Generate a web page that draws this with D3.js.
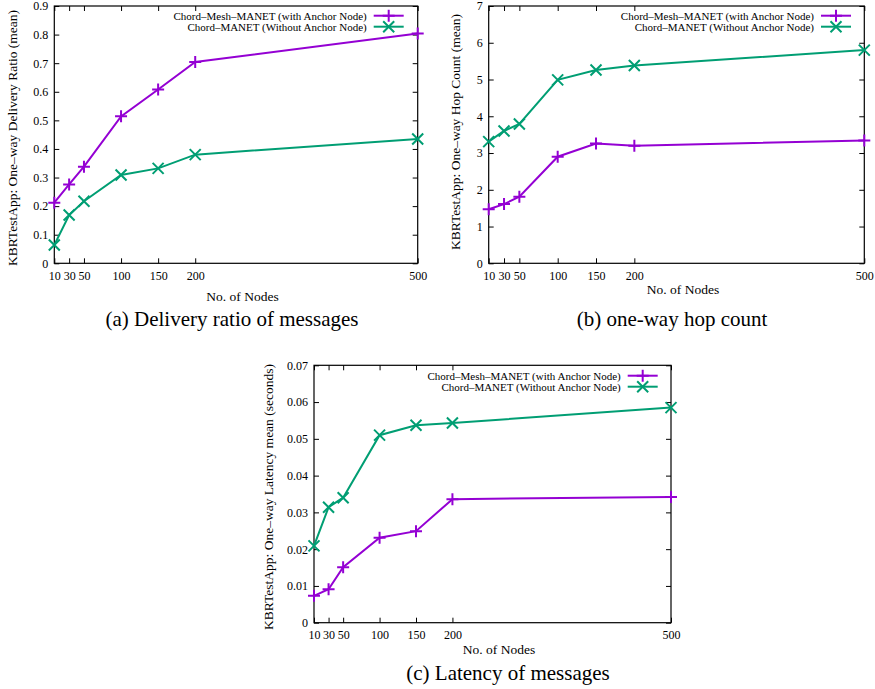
<!DOCTYPE html>
<html><head><meta charset="utf-8">
<script src="https://cdn.jsdelivr.net/npm/d3@7"></script>
<style>body{margin:0;background:#fff}svg{display:block}text{font-family:"Liberation Serif","Times New Roman",serif;fill:#000}</style>
</head><body>
<svg id="c" width="875" height="689"></svg>
<script>
const nodes = [10, 30, 50, 100, 150, 200, 500];
const seriesNames = ["Chord\u2013Mesh\u2013MANET (with Anchor Node)", "Chord\u2013MANET (Without Anchor Node)"];
const deliveryWithAnchor = [0.212, 0.276, 0.338, 0.514, 0.608, 0.704, 0.804];
const deliveryWithout = [0.064, 0.169, 0.217, 0.309, 0.332, 0.380, 0.435];
const hopWithAnchor = [1.47, 1.61, 1.81, 2.90, 3.26, 3.20, 3.34];
const hopWithout = [3.31, 3.60, 3.79, 4.99, 5.26, 5.38, 5.80];
const latencyWithAnchor = [0.0073, 0.0091, 0.0151, 0.0231, 0.0249, 0.0336, 0.0342];
const latencyWithout = [0.0209, 0.0314, 0.0340, 0.0510, 0.0537, 0.0543, 0.0585];
const deliveryTicks = [0, 0.1, 0.2, 0.3, 0.4, 0.5, 0.6, 0.7, 0.8, 0.9];
const hopTicks = [0, 1, 2, 3, 4, 5, 6, 7];
const latencyTicks = [0, 0.01, 0.02, 0.03, 0.04, 0.05, 0.06, 0.07];
const colors = ["#9400d3", "#009e73"];

const svg = d3.select("#c");

function marker(g, type, x, y, s, color) {
  if (type === 0) {
    g.append("path").attr("d", `M${x - s},${y}H${x + s}M${x},${y - s}V${y + s}`)
      .attr("stroke", color).attr("stroke-width", 2).attr("fill", "none");
  } else {
    g.append("path").attr("d", `M${x - s},${y - s}L${x + s},${y + s}M${x - s},${y + s}L${x + s},${y - s}`)
      .attr("stroke", color).attr("stroke-width", 2).attr("fill", "none");
  }
}

function panel(cfg) {
  const g = svg.append("g");
  const x = d3.scaleLinear().domain([10, 500]).range([cfg.l, cfg.r]);
  const y = d3.scaleLinear().domain([0, cfg.yTicks[cfg.yTicks.length - 1]]).range([cfg.b, cfg.t]);
  const tl = 5;
  // left axis
  g.append("g").attr("transform", `translate(${cfg.l},0)`)
    .call(d3.axisLeft(y).tickValues(cfg.yTicks).tickSize(-tl).tickPadding(6).tickFormat(cfg.yFmt))
    .call(a => { a.select(".domain").remove(); a.selectAll("text").attr("font-size", 12).attr("font-family", "Liberation Serif"); a.selectAll("line").attr("stroke", "#000"); });
  // right axis mirror ticks
  g.append("g").attr("transform", `translate(${cfg.r},0)`)
    .call(d3.axisRight(y).tickValues(cfg.yTicks).tickSize(-tl).tickFormat(""))
    .call(a => { a.select(".domain").remove(); a.selectAll("line").attr("stroke", "#000"); });
  // bottom
  g.append("g").attr("transform", `translate(0,${cfg.b})`)
    .call(d3.axisBottom(x).tickValues(nodes).tickSize(-tl).tickPadding(8).tickFormat(d3.format("d")))
    .call(a => { a.select(".domain").remove(); a.selectAll("text").attr("font-size", 12).attr("font-family", "Liberation Serif"); a.selectAll("line").attr("stroke", "#000"); });
  // top mirror
  g.append("g").attr("transform", `translate(0,${cfg.t})`)
    .call(d3.axisTop(x).tickValues(nodes).tickSize(-tl).tickFormat(""))
    .call(a => { a.select(".domain").remove(); a.selectAll("line").attr("stroke", "#000"); });
  g.append("rect").attr("x", cfg.l).attr("y", cfg.t).attr("width", cfg.r - cfg.l).attr("height", cfg.b - cfg.t)
    .attr("fill", "none").attr("stroke", "#000").attr("stroke-width", 1.2);

  const line = d3.line().x((d, i) => x(nodes[i])).y(d => y(d));
  cfg.series.forEach((s, k) => {
    g.append("path").datum(s).attr("d", line).attr("fill", "none").attr("stroke", colors[k]).attr("stroke-width", 2);
    s.forEach((v, i) => marker(g, k, x(nodes[i]), y(v), k === 0 ? 6 : 5.5, colors[k]));
  });

  // legend
  seriesNames.forEach((n, k) => {
    const ly = cfg.legY + k * 11;
    g.append("text").attr("x", cfg.legX).attr("y", ly + 4).attr("text-anchor", "end").attr("font-size", 11).text(n);
    g.append("line").attr("x1", cfg.legX + 7).attr("x2", cfg.legX + 37).attr("y1", ly).attr("y2", ly)
      .attr("stroke", colors[k]).attr("stroke-width", 2);
    marker(g, k, cfg.legX + 22, ly, k === 0 ? 6 : 5.5, colors[k]);
  });

  g.append("text").attr("x", cfg.xlx).attr("y", cfg.xly).attr("text-anchor", "middle").attr("font-size", 13.5).text("No. of Nodes");
  g.append("text").attr("transform", `translate(${cfg.ylx},${cfg.yly}) rotate(-90)`).attr("text-anchor", "middle")
    .attr("dominant-baseline", "central").attr("font-size", 13.5).text(cfg.ylabel);
  g.append("text").attr("x", cfg.capx).attr("y", cfg.capy).attr("text-anchor", "middle").attr("font-size", 21).text(cfg.caption);
}

panel({l: 54.3, r: 417.7, t: 6, b: 263.3, yTicks: deliveryTicks, yFmt: d3.format("~g"),
  series: [deliveryWithAnchor, deliveryWithout], legX: 366.7, legY: 15.7,
  xlx: 242.5, xly: 301, ylx: 12.5, yly: 138, ylabel: "KBRTestApp: One\u2013way Delivery Ratio (mean)",
  capx: 232, capy: 326, caption: "(a) Delivery ratio of messages"});
panel({l: 488.7, r: 864.3, t: 6, b: 263.3, yTicks: hopTicks, yFmt: d3.format("d"),
  series: [hopWithAnchor, hopWithout], legX: 814, legY: 15.7,
  xlx: 683, xly: 294, ylx: 455, yly: 132, ylabel: "KBRTestApp: One\u2013way Hop Count (mean)",
  capx: 672, capy: 326, caption: "(b) one-way hop count"});
panel({l: 314, r: 671, t: 365.3, b: 622.7, yTicks: latencyTicks, yFmt: d3.format("~g"),
  series: [latencyWithAnchor, latencyWithout], legX: 620.7, legY: 375.7,
  xlx: 499, xly: 654, ylx: 268, yly: 497, ylabel: "KBRTestApp: One\u2013way Latency mean (seconds)",
  capx: 508, capy: 680, caption: "(c) Latency of messages"});
</script>
</body></html>
